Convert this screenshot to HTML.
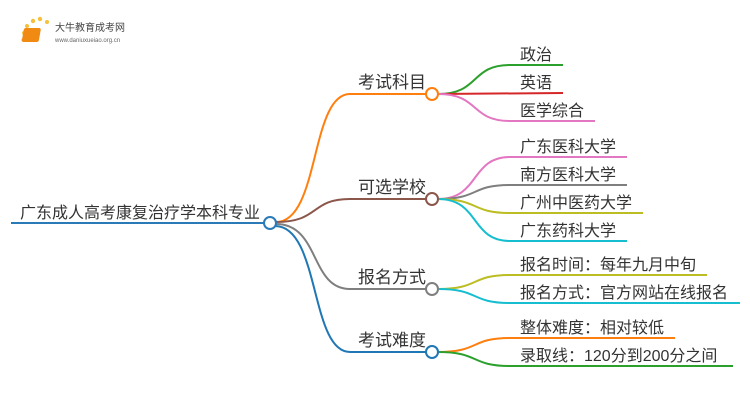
<!DOCTYPE html>
<html><head><meta charset="utf-8"><style>
body{margin:0;width:750px;height:410px;background:#fff;overflow:hidden}
svg text{font-family:"Liberation Sans","Noto Sans CJK SC",sans-serif;fill:#333}
</style></head><body>
<svg width="750" height="410" viewBox="0 0 750 410" xmlns="http://www.w3.org/2000/svg">
<g>
<circle cx="24" cy="33" r="2" fill="#f6c13a"/><circle cx="27" cy="26" r="2" fill="#f6c13a"/><circle cx="33" cy="21" r="2.2" fill="#f6c13a"/><circle cx="40" cy="19" r="2.2" fill="#f6c13a"/><circle cx="47" cy="22" r="2" fill="#f6c13a"/><circle cx="23" cy="40" r="1.6" fill="#f6c13a"/>
<rect x="29" y="28" width="17" height="14" rx="2" fill="#f08a12" transform="skewX(-10)"/>
<text x="55" y="31" font-size="10" style="fill:#444">大牛教育成考网</text>
<text x="55" y="42" font-size="6" style="fill:#666">www.daniuxueiao.org.cn</text>
</g>
<g fill="none" stroke-width="2">
<line x1="11" y1="223" x2="264" y2="223" stroke="#2a7ab8"/>
<path d="M276 222 C320 222 310 94 350 94 L426 94" stroke="#ff7f0e"/>
<path d="M276 222 C320 222 310 199 350 199 L426 199" stroke="#8c564b"/>
<path d="M276 224 C320 224 310 289 350 289 L426 289" stroke="#7f7f7f"/>
<path d="M275 226 C320 226 310 352 350 352 L426 352" stroke="#1f77b4"/>
<path d="M438 94 C480 94 470 65 510 65 L563 65" stroke="#2ca02c"/>
<path d="M438 94 L563 93" stroke="#d62728"/>
<path d="M438 94 C480 94 470 121 510 121 L595 121" stroke="#e377c2"/>
<path d="M438 199 C480 199 470 157 510 157 L627 157" stroke="#e377c2"/>
<path d="M438 199 C480 199 470 185 510 185 L627 185" stroke="#7f7f7f"/>
<path d="M438 199 C480 199 470 213 510 213 L643 213" stroke="#bcbd22"/>
<path d="M438 199 C480 199 470 241 510 241 L627 241" stroke="#17becf"/>
<path d="M438 289 C480 289 470 275 510 275 L707 275" stroke="#bcbd22"/>
<path d="M438 289 C480 289 470 303 510 303 L740 303" stroke="#17becf"/>
<path d="M438 352 C480 352 470 338 510 338 L675 338" stroke="#ff7f0e"/>
<path d="M438 352 C480 352 470 366 510 366 L733 366" stroke="#2ca02c"/>
</g>
<g fill="#fff" stroke-width="2">
<circle cx="270" cy="223" r="6" stroke="#2a7ab8"/>
<circle cx="432" cy="94" r="6" stroke="#ff7f0e"/>
<circle cx="432" cy="199" r="6" stroke="#8c564b"/>
<circle cx="432" cy="289" r="6" stroke="#7f7f7f"/>
<circle cx="432" cy="352" r="6" stroke="#1f77b4"/>
</g>
<text x="20" y="218" font-size="16">广东成人高考康复治疗学本科专业</text>
<g font-size="17">
<text x="358" y="88">考试科目</text>
<text x="358" y="193">可选学校</text>
<text x="358" y="283">报名方式</text>
<text x="358" y="346">考试难度</text>
</g>
<g font-size="16">
<text x="520" y="60">政治</text>
<text x="520" y="88">英语</text>
<text x="520" y="116">医学综合</text>
<text x="520" y="152">广东医科大学</text>
<text x="520" y="180">南方医科大学</text>
<text x="520" y="208">广州中医药大学</text>
<text x="520" y="236">广东药科大学</text>
<text x="520" y="270">报名时间：每年九月中旬</text>
<text x="520" y="298">报名方式：官方网站在线报名</text>
<text x="520" y="333">整体难度：相对较低</text>
<text x="520" y="361">录取线：120分到200分之间</text>
</g>
</svg>
</body></html>
